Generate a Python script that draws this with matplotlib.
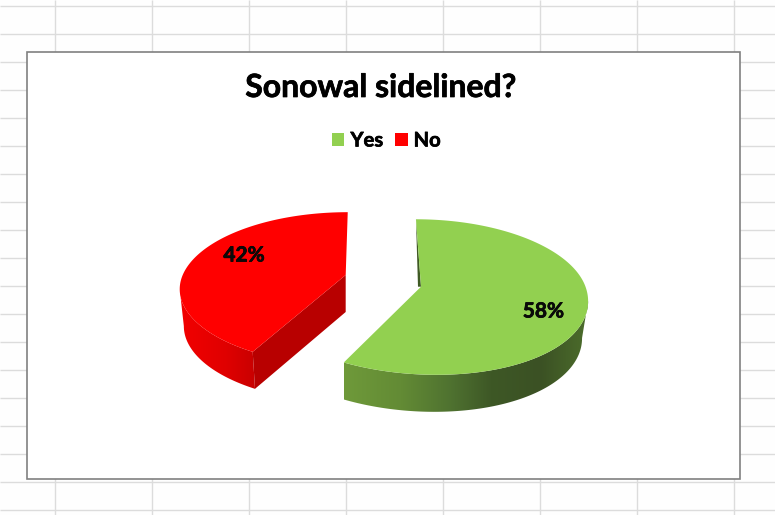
import numpy as np
import matplotlib
matplotlib.use('Agg')
import matplotlib.pyplot as plt
import matplotlib.patheffects as pe
from matplotlib.patches import Patch, Polygon

plt.rcParams['font.family'] = ['Lato', 'DejaVu Sans']

title = 'Sonowal sidelined?'
categories = ['Yes', 'No']
shares = [58, 42]
share_labels = ['58%', '42%']
colors = ['#92d050', '#ff0000']

# where things sit on the sheet, in pixels
grid_x = np.arange(54.5, 775, 97)
grid_y = np.arange(6, 515, 28)
label_pos = [(543.5, 311.5), (244, 255.5)]

# cx, cy, rx, ry, k (tilt), s and e (small skews)
shapes = [
    (421, 286.7, 164.5, 76.4, 0.133, -5.7, 8.9),
    (345.7, 275, 163, 74, 0.178, 2.4, 3.3),
]
depth = 37
vanish_x = 345
squeeze = 0.975

green_stops = ([342, 400, 450, 490, 540, 585], ['#6f9a3a', '#638b35', '#4f7230', '#3e5826', '#3b5124', '#4b6b2b'])
red_stops = ([180, 225, 258, 345], ['#f20000', '#e00000', '#c60000', '#c60000'])


def warp(u, v, shape):
    cx, cy, rx, ry, k, s, e = shape
    w = 1 + k * v
    x = cx + (rx * u + s * v) / w + e * np.minimum(v, 0) ** 2
    y = cy - ry * v / w
    return x, y


def lower(x, y):
    return vanish_x + (x - vanish_x) * squeeze, y + depth


def gradient_fill(ax, xs, ys, stops, zorder):
    xpos, hexes = stops
    rgb = np.array([matplotlib.colors.to_rgb(c) for c in hexes])
    grid = np.linspace(xs.min(), xs.max(), 300)
    img = np.stack([np.interp(grid, xpos, rgb[:, i]) for i in range(3)], axis=-1)[None, :, :]
    im = ax.imshow(img, extent=(xs.min(), xs.max(), ys.max(), ys.min()),
                   aspect='auto', zorder=zorder, interpolation='bilinear')
    clip = Polygon(np.column_stack([xs, ys]), closed=True, transform=ax.transData)
    im.set_clip_path(clip)


fig = plt.figure(figsize=(7.75, 5.15), dpi=100, facecolor='#fefefe')

# hidden pie only gives the wedge angles
pie_ax = fig.add_axes([0, 0, 0.1, 0.1])
wedges, _ = pie_ax.pie(shares, startangle=90, counterclock=False)
pie_ax.set_visible(False)

ax = fig.add_axes([0, 0, 1, 1])
ax.set_facecolor('none')

ax.hlines(grid_y, 0, 775, color='#dcdcdc', lw=1, zorder=1)
ax.vlines(grid_x, 0, 515, color='#dcdcdc', lw=1, zorder=1)
ax.add_patch(plt.Rectangle((26.5, 51.5), 713, 427.5, facecolor='white',
                           edgecolor='#808080', lw=1.2, zorder=2))

heavy = [pe.withStroke(linewidth=0.5, foreground='black')]

for i, wedge in enumerate(wedges):
    shape = shapes[i]
    ang = np.radians(np.linspace(wedge.theta1, wedge.theta2, 300))
    x, y = warp(np.cos(ang), np.sin(ang), shape)
    ax_, ay_ = warp(0.0, 0.0, shape)

    # rim band, only the part from the side extreme to the front corner
    if i == 0:
        keep = np.arange(0, np.argmax(x) + 1)
    else:
        keep = np.arange(np.argmin(x), len(x))
    bx, by = lower(x[keep], y[keep])
    side_x = np.concatenate([x[keep], bx[::-1]])
    side_y = np.concatenate([y[keep], by[::-1]])
    gradient_fill(ax, side_x, side_y, green_stops if i == 0 else red_stops, 3)

    if i == 1:
        # cut face of the red slice, goes from apex to the front corner
        lx, ly = lower(np.array([ax_, x[-1]]), np.array([ay_, y[-1]]))
        ax.add_patch(Polygon([(ax_, ay_), (x[-1], y[-1]), (lx[1], ly[1]), (lx[0], ly[0])],
                             facecolor='#b80000', edgecolor='none', zorder=4))
    else:
        # thin dark strip on the back cut of the green slice
        ax.add_patch(Polygon([(x[-1], y[-1]), (ax_, ay_), (ax_ - 3, ay_)],
                             facecolor='#3f5a24', edgecolor='none', zorder=4))

    ax.add_patch(Polygon(np.column_stack([np.append(x, ax_), np.append(y, ay_)]),
                         facecolor=colors[i], edgecolor='none', zorder=5))
    ax.text(label_pos[i][0], label_pos[i][1], share_labels[i], fontsize=15,
            fontweight='bold', color='#0a0a0a', ha='center', va='center', zorder=6,
            path_effects=heavy)

ax.text(381, 87.5, title, fontsize=23, fontweight='bold', color='black',
        ha='center', va='center', zorder=6, path_effects=heavy)

handles = [Patch(facecolor=c, edgecolor='none') for c in colors]
leg = ax.legend(handles, categories, ncols=2, frameon=False, loc='center',
                bbox_to_anchor=(386.5 / 775, 1 - 140.5 / 515), fontsize=14.5,
                handlelength=0.6, handleheight=0.6, handletextpad=0.3,
                columnspacing=0.62, borderpad=0)
for t in leg.get_texts():
    t.set_fontweight('bold')
    t.set_path_effects(heavy)
leg.set_zorder(6)

ax.set_xlim(0, 775)
ax.set_ylim(515, 0)
ax.axis('off')

fig.savefig('out.png', dpi=100, facecolor=fig.get_facecolor())
